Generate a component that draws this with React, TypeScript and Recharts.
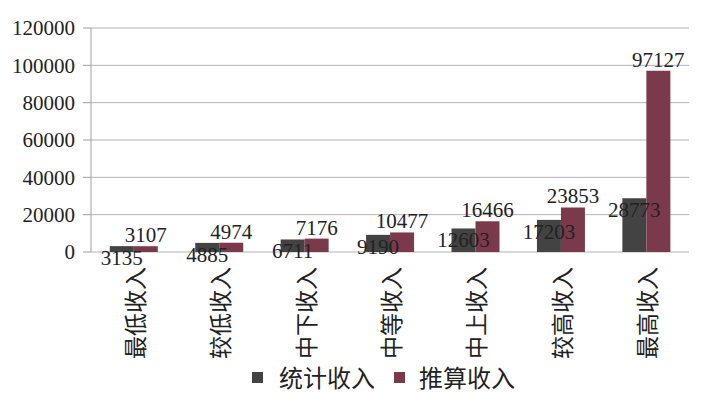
import React from "react";
import { BarChart, Bar, XAxis, YAxis, CartesianGrid, Legend, LabelList } from "recharts";

const categories = ["最低收入", "较低收入", "中下收入", "中等收入", "中上收入", "较高收入", "最高收入"];
const statIncome = [3135, 4885, 6711, 9190, 12603, 17203, 28773];
const estIncome = [3107, 4974, 7176, 10477, 16466, 23853, 97127];
const yTicks = [0, 20000, 40000, 60000, 80000, 100000, 120000];
const edgeTicks = categories.map((_, i) => i).concat(categories.length);

const data = categories.map((name, i) => ({
  name,
  stat: statIncome[i],
  est: estIncome[i],
}));

const DARK = "#434343";
const RED = "#7b3a4b";
const AXIS = "#a0a0a0";
const SERIF = "'Liberation Serif', 'Times New Roman', serif";
const CJK = "'Noto Sans CJK SC', sans-serif";

const CategoryTick = (props: any) => {
  const { x, y, payload } = props;
  const ty = y + 7;
  return (
    <text
      x={x}
      y={ty}
      transform={`rotate(-90 ${x} ${ty})`}
      textAnchor="end"
      dominantBaseline="central"
      fontFamily={CJK}
      fontSize={23}
      fill="#222"
    >
      {payload.value}
    </text>
  );
};

const LegendBox = () => (
  <div
    style={{
      display: "flex",
      justifyContent: "center",
      alignItems: "center",
      fontFamily: CJK,
      fontSize: 24,
      lineHeight: "26px",
      color: "#222",
      paddingLeft: 46,
      paddingTop: 2,
    }}
  >
    <span style={{ display: "inline-block", width: 11, height: 11, background: DARK, marginRight: 16 }} />
    <span style={{ marginRight: 19 }}>统计收入</span>
    <span style={{ display: "inline-block", width: 11, height: 11, background: RED, marginRight: 14 }} />
    <span>推算收入</span>
  </div>
);

export default function App() {
  return (
    <div style={{ position: "absolute", left: 0, top: 0, background: "#fff" }}>
      <BarChart
        width={721}
        height={394}
        data={data}
        margin={{ top: 28, right: 32, bottom: 0, left: 0 }}
        barGap={0}
        barCategoryGap="22%"
      >
        <CartesianGrid xAxisId="cat" vertical={false} stroke="#b4b4b4" />
        <XAxis
          xAxisId="edge"
          type="number"
          domain={[0, categories.length]}
          ticks={edgeTicks}
          tickFormatter={() => ""}
          height={0}
          tickSize={8}
          stroke={AXIS}
          allowDataOverflow
        />
        <XAxis
          xAxisId="cat"
          dataKey="name"
          height={110}
          axisLine={false}
          tickLine={false}
          interval={0}
          tick={<CategoryTick />}
        />
        <YAxis
          width={91}
          domain={[0, 120000]}
          ticks={yTicks}
          tickSize={8}
          tickMargin={8}
          stroke={AXIS}
          tick={{ fill: "#222", fontFamily: SERIF, fontSize: 21 }}
        />
        <Legend
          verticalAlign="bottom"
          height={32}
          wrapperStyle={{ left: 0, width: 721 }}
          content={<LegendBox />}
        />
        <Bar xAxisId="cat" dataKey="stat" fill={DARK} isAnimationActive={false}>
          <LabelList dataKey="stat" position="insideTop" offset={4} fill="#222" fontFamily={SERIF} fontSize={21} />
        </Bar>
        <Bar xAxisId="cat" dataKey="est" fill={RED} isAnimationActive={false}>
          <LabelList dataKey="est" position="top" offset={4} fill="#222" fontFamily={SERIF} fontSize={21} />
        </Bar>
      </BarChart>
    </div>
  );
}
